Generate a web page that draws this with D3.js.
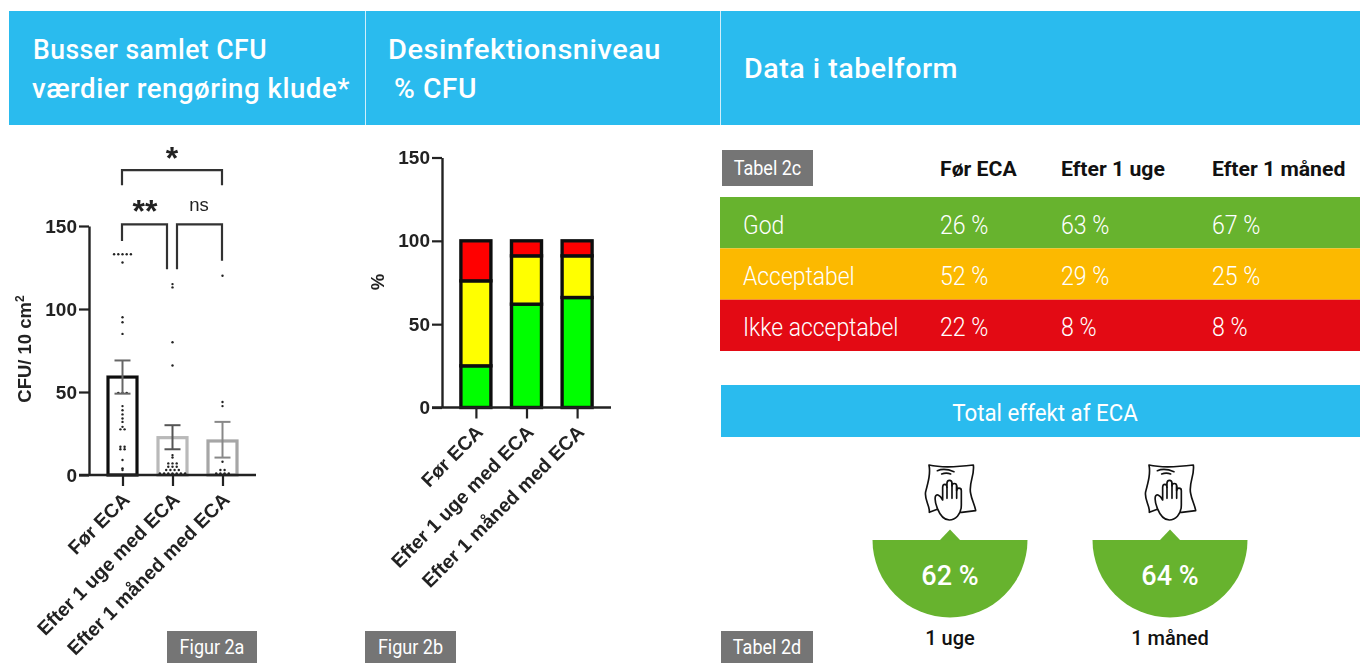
<!DOCTYPE html>
<html lang="da">
<head>
<meta charset="utf-8">
<script src="https://cdn.jsdelivr.net/npm/d3@7/dist/d3.min.js"></script>
<style>
  html, body { margin: 0; padding: 0; background: #fff; overflow: hidden; }
  svg { display: block; }
  text { font-family: Roboto, sans-serif; }
  .plot text { font-family: "Liberation Sans", Arial, sans-serif; font-weight: 700; fill: #222; }
</style>
</head>
<body>
<svg id="view" width="1360" height="663"></svg>
<script>
const groups = ["Før ECA", "Efter 1 uge med ECA", "Efter 1 måned med ECA"];
const yTicks = [0, 50, 100, 150];

// Figur 2a
const cfuMean = [59, 22.5, 20.5];
const cfuLow = [49, 15.5, 10.5];
const cfuHigh = [69, 30, 32];
const cfuBefore = [133, 133, 133, 133, 133, 128, 95, 92, 85, 49.5, 49.5, 49.5, 41.5, 39, 36.5, 34, 32, 29, 27.5, 27.5, 17, 17, 15.5, 15.5, 9, 4, 3];
const cfuWeek = [115, 113, 80, 66, 12, 10.5, 7, 7, 7, 5, 5, 5, 3, 3, 3, 3, 1, 1, 1, 1, 1, 1, 1];
const cfuMonth = [120, 44, 41.5, 8, 3, 3, 1, 1, 1, 1];
const cfuPoints = [cfuBefore, cfuWeek, cfuMonth];

// Figur 2b
const good = [25, 62, 66];
const accepted = [51, 29, 25];
const notAccepted = [24, 9, 9];

// Tabel 2c
const tableHead = ["Før ECA", "Efter 1 uge", "Efter 1 måned"];
const tableRows = ["God", "Acceptabel", "Ikke acceptabel"];
const tableGood = ["26 %", "63 %", "67 %"];
const tableAccepted = ["52 %", "29 %", "25 %"];
const tableNot = ["22 %", "8 %", "8 %"];

// Tabel 2d
const effectLabels = ["1 uge", "1 måned"];
const effectValues = ["62 %", "64 %"];

const BLUE = "#2ABBEE", GREEN = "#67B32E", ORANGE = "#FCB900", RED = "#E30A14", TAG = "#757575";

const svg = d3.select("#view");
svg.append("defs").append("filter").attr("id", "soft")
    .attr("filterUnits", "userSpaceOnUse")
    .attr("x", 0).attr("y", 0).attr("width", 1360).attr("height", 663)
    .append("feGaussianBlur").attr("stdDeviation", 0.55);

// narrow the text a bit, the original font is more condensed than Roboto
function squeeze(sel, ratio) {
  sel.each(function () {
    d3.select(this).attr("lengthAdjust", "spacingAndGlyphs")
      .attr("textLength", this.getComputedTextLength() * ratio);
  });
  return sel;
}

function label(x, y, str, size, weight, color, anchor) {
  return svg.append("text").attr("x", x).attr("y", y).text(str)
    .style("font-size", size + "px").style("font-weight", weight)
    .attr("fill", color).attr("text-anchor", anchor || "start");
}

// header band
svg.append("rect").attr("x", 9).attr("y", 11).attr("width", 1351).attr("height", 114).attr("fill", BLUE);
[365, 720].forEach(x => svg.append("rect").attr("x", x).attr("y", 11).attr("width", 1).attr("height", 114).attr("fill", "#cfeefb"));
function headLine(x, y, str, width) {
  label(x, y, str, 27, 500, "#fff").style("letter-spacing", "0.5px")
    .attr("lengthAdjust", "spacingAndGlyphs").attr("textLength", width);
}
headLine(33, 59, "Busser samlet CFU", 234);
headLine(32, 98, "værdier rengøring klude*", 318);
headLine(388, 59, "Desinfektionsniveau", 273);
headLine(394, 98, "% CFU", 83);
headLine(744, 78, "Data i tabelform", 214);

function addTag(x, y, w, h, str) {
  svg.append("rect").attr("x", x).attr("y", y).attr("width", w).attr("height", h).attr("fill", TAG);
  squeeze(label(x + w / 2, y + h / 2 + 7, str, 20, 400, "#fff", "middle"), 0.9);
}
addTag(167, 631, 90, 32, "Figur 2a");
addTag(365, 631, 91, 32, "Figur 2b");
addTag(722, 150, 91, 36, "Tabel 2c");
addTag(721, 631, 92, 32, "Tabel 2d");

// shared axes for the two GraphPad style plots
function drawAxes(g, x, y) {
  const yAxis = g.append("g").attr("transform", `translate(${x.range()[0]},0)`)
    .call(d3.axisLeft(y).tickValues(yTicks).tickSize(10).tickSizeOuter(0).tickPadding(2));
  const xAxis = g.append("g").attr("transform", `translate(0,${y(0)})`)
    .call(d3.axisBottom(x).tickSize(11).tickSizeOuter(0));
  [yAxis, xAxis].forEach(a => {
    a.select(".domain").attr("stroke", "#222").attr("stroke-width", 2.4);
    a.selectAll(".tick line").attr("stroke", "#222").attr("stroke-width", 2.2);
  });
  yAxis.selectAll("text").style("font-size", "19px");
  xAxis.selectAll("text").style("font-size", "19.4px")
    .attr("text-anchor", "end").attr("x", 0).attr("y", 0).attr("dy", "0.35em")
    .attr("transform", "translate(3,21) rotate(-45)");
  // x axis runs past the y axis to the left tick
  xAxis.select(".domain").attr("d", `M${x.range()[0] - 10},0H${x.range()[1]}`);
}

// Figur 2a
const plotA = svg.append("g").attr("class", "plot").attr("filter", "url(#soft)");
const xA = d3.scalePoint().domain(groups).range([89, 256]).padding(0.67);
const yA = d3.scaleLinear().domain([0, 150]).range([475, 226]);

const barColor = ["#111", "#b9b9b9", "#a6a6a6"];
const errColor = ["#666", "#555", "#888"];
plotA.selectAll(".bar").data(groups).enter().append("rect").attr("class", "bar")
    .attr("x", d => xA(d) - 14.5).attr("width", 29)
    .attr("y", (d, i) => yA(cfuMean[i]))
    .attr("height", (d, i) => yA(0) - yA(cfuMean[i]))
    .attr("fill", "none").attr("stroke", (d, i) => barColor[i]).attr("stroke-width", 3.2);

// dots, points with the same value are put side by side
groups.forEach((g, i) => {
  const bins = d3.group(cfuPoints[i], v => v);
  bins.forEach((vals, v) => {
    vals.forEach((_, k) => {
      plotA.append("circle")
        .attr("cx", xA(g) + (k - (vals.length - 1) / 2) * 4.2)
        .attr("cy", yA(v)).attr("r", 1.2).attr("fill", "#222");
    });
  });
});

// error bars
groups.forEach((g, i) => {
  const cx = xA(g), c = errColor[i];
  plotA.append("line").attr("x1", cx).attr("x2", cx).attr("y1", yA(cfuLow[i])).attr("y2", yA(cfuHigh[i]))
    .attr("stroke", c).attr("stroke-width", 2);
  [cfuLow[i], cfuHigh[i]].forEach(v => {
    plotA.append("line").attr("x1", cx - 8).attr("x2", cx + 8).attr("y1", yA(v)).attr("y2", yA(v))
      .attr("stroke", c).attr("stroke-width", 2);
  });
});

drawAxes(plotA, xA, yA);
const yTitleA = plotA.append("text").attr("transform", "translate(31,349) rotate(-90)")
    .attr("text-anchor", "middle").style("font-size", "18.5px");
yTitleA.append("tspan").text("CFU/ 10 cm");
yTitleA.append("tspan").attr("dy", "-7").style("font-size", "12px").text("2");

// significance brackets
const brackets = [
  { from: 122, to: 222, top: 183.7, l: 174.5, r: 174.5, mark: "*", mx: 172, my: 168.5, size: 32 },
  { from: 122, to: 167, top: 151, l: 141, r: 124, mark: "**", mx: 145, my: 222, size: 32 },
  { from: 177, to: 222, top: 151, l: 124, r: 129, mark: "ns", mx: 199, my: 211, size: 18.5 }
];
brackets.forEach(b => {
  plotA.append("path")
    .attr("d", d3.line()([[b.from, yA(b.l)], [b.from, yA(b.top)], [b.to, yA(b.top)], [b.to, yA(b.r)]]))
    .attr("fill", "none").attr("stroke", "#333").attr("stroke-width", 2.2);
  plotA.append("text").attr("x", b.mx).attr("y", b.my).attr("text-anchor", "middle")
    .style("font-size", b.size + "px").style("font-weight", b.mark === "ns" ? 400 : 700)
    .text(b.mark);
});

// Figur 2b
const plotB = svg.append("g").attr("class", "plot").attr("filter", "url(#soft)");
const xB = d3.scalePoint().domain(groups).range([442, 611]).padding(0.67);
const yB = d3.scaleLinear().domain([0, 150]).range([407.5, 157.5]);

const stackRows = groups.map((g, i) => ({ group: g, good: good[i], accepted: accepted[i], notAccepted: notAccepted[i] }));
const stack = d3.stack().keys(["good", "accepted", "notAccepted"])(stackRows);
const stackColor = d3.scaleOrdinal().domain(["good", "accepted", "notAccepted"]).range(["#00FF00", "#FFFF00", "#FF0000"]);
plotB.selectAll(".layer").data(stack).enter().append("g").attr("class", "layer")
    .attr("fill", d => stackColor(d.key))
    .selectAll("rect").data(d => d).enter().append("rect")
    .attr("x", d => xB(d.data.group) - 15).attr("width", 30)
    .attr("y", d => yB(d[1])).attr("height", d => yB(d[0]) - yB(d[1]))
    .attr("stroke", "#111").attr("stroke-width", 3.4);

drawAxes(plotB, xB, yB);
plotB.append("text").attr("transform", "translate(384,282) rotate(-90)")
    .attr("text-anchor", "middle").style("font-size", "18.5px").text("%");

// Tabel 2c
const columnX = [940, 1061, 1212];
const rowColors = [GREEN, ORANGE, RED];
const rowValues = [tableGood, tableAccepted, tableNot];
const rowY = d3.scaleBand().domain(tableRows).range([197, 351]);
tableHead.forEach((h, i) => squeeze(label(columnX[i], 176, h, 20, 700, "#111"), 1.06));
tableRows.forEach((r, i) => {
  svg.append("rect").attr("x", 720).attr("y", rowY(r)).attr("width", 640).attr("height", rowY.bandwidth()).attr("fill", rowColors[i]);
  const base = rowY(r) + rowY.bandwidth() / 2 + 11;
  squeeze(label(743, base, r, 26, 300, "#fff"), 0.88);
  rowValues[i].forEach((v, j) => squeeze(label(columnX[j], base, v, 26, 300, "#fff"), 0.89));
});

// Tabel 2d
svg.append("rect").attr("x", 721).attr("y", 385).attr("width", 639).attr("height", 52).attr("fill", BLUE);
squeeze(label(1045, 421, "Total effekt af ECA", 24, 400, "#fff", "middle"), 0.93);

const effectX = d3.scalePoint().domain(effectLabels).range([950, 1170]);
const halfDisc = d3.arc().innerRadius(0).outerRadius(77.5).startAngle(Math.PI / 2).endAngle(3 * Math.PI / 2);
effectLabels.forEach((name, i) => {
  const cx = effectX(name);
  const g = svg.append("g").attr("transform", `translate(${cx},540)`);
  g.append("path").attr("d", halfDisc).attr("fill", GREEN);
  g.append("path").attr("d", "M-10.5 0.5L0 -10.5L10.5 0.5Z").attr("fill", GREEN);
  g.append("text").attr("y", 45).attr("text-anchor", "middle").attr("fill", "#fff")
    .style("font-size", "27px").style("font-weight", 500).text(effectValues[i]);
  g.append("text").attr("y", 105).attr("text-anchor", "middle").attr("fill", "#111")
    .style("font-size", "20px").style("font-weight", 500).text(name);

  // cloth and hand icon
  const icon = svg.append("g").attr("transform", `translate(${cx - 90},450) scale(0.3333)`)
    .attr("fill", "none").attr("stroke", "#111").attr("stroke-width", 5)
    .attr("stroke-linecap", "round").attr("stroke-linejoin", "round");
  icon.append("path").attr("fill", "#fff")
    .attr("d", "M207 45C250 55 300 50 340 45C345 75 325 100 332 130C335 150 345 165 347 182L305 187L232 178L208 187C210 165 192 150 197 125C205 95 212 70 207 45Z");
  icon.append("path").attr("d", "M232 62C250 55 265 58 282 65M245 72C255 68 265 69 272 72");
  icon.append("path").attr("fill", "#fff")
    .attr("d", "M248 150L248 112C248 100 261 100 261 112L261 100C261 88 276 88 276 100L276 108C276 98 290 98 290 108L290 122C290 112 304 112 304 122L304 165C304 195 285 210 268 210C250 210 240 195 232 175C228 165 224 150 226 140C230 130 240 135 248 150Z");
  icon.append("path").attr("d", "M261 112L261 145M276 100L276 145M290 108L290 145");
});
</script>
</body>
</html>
